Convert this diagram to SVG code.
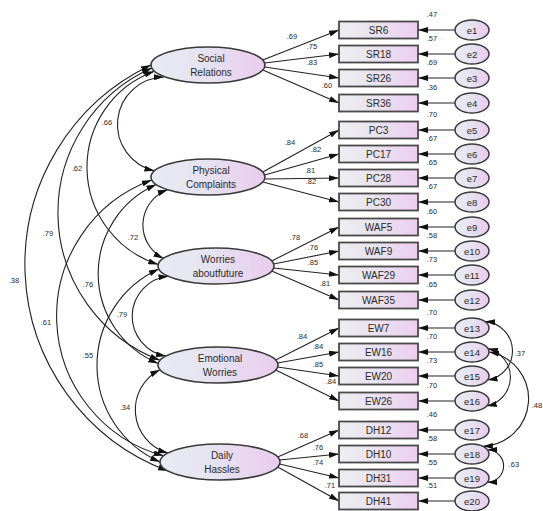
<svg xmlns="http://www.w3.org/2000/svg" width="543" height="511" viewBox="0 0 543 511">
<defs>
<linearGradient id="gl" x1="0" y1="0" x2="1" y2="0"><stop offset="0" stop-color="#e9eaf3"/><stop offset="0.45" stop-color="#e5e3f0"/><stop offset="1" stop-color="#eacbee"/></linearGradient>
<linearGradient id="gb" x1="0" y1="0" x2="1" y2="0"><stop offset="0" stop-color="#ededf1"/><stop offset="0.5" stop-color="#e8e2ef"/><stop offset="1" stop-color="#efcdf1"/></linearGradient>
<marker id="ah" viewBox="0 0 10 6" refX="10" refY="3" markerWidth="10" markerHeight="6" markerUnits="userSpaceOnUse" orient="auto-start-reverse"><path d="M0,0L10,3L0,6z" fill="#111"/></marker>
</defs>
<style>
.lat{fill:url(#gl);stroke:#3a3a3a;stroke-width:1.6}
.box{fill:url(#gb);stroke:#4a4a4a;stroke-width:1.8}
.err{fill:url(#gl);stroke:#3a3a3a;stroke-width:1.5}
.c{fill:none;stroke:#222;stroke-width:1.1;marker-end:url(#ah)}
.cov{fill:none;stroke:#222;stroke-width:1.1;marker-start:url(#ah);marker-end:url(#ah)}
text{font-family:"Liberation Sans",Arial,sans-serif;fill:#2a2a2a;text-anchor:middle}
.lt{font-size:10px}
.bt{font-size:10px}
.et{font-size:9.5px}
.n{font-size:7.5px;fill:#555}
</style>
<rect width="543" height="511" fill="#fff"/>

<g id="connectors">
<path class="cov" d="M164,77 A47.5,47.5 0 0 0 154.4,170.8"/>
<path class="cov" d="M154.4,71.2 A102,102 0 0 0 158.2,264.4"/>
<path class="cov" d="M151.9,68.1 A158,158 0 0 0 160,360.3"/>
<path class="cov" d="M151,65 A220.7,220.7 0 0 0 168,471"/>
<path class="cov" d="M167.7,189.7 A37.5,37.5 0 0 0 163.4,258.4"/>
<path class="cov" d="M156.3,184.6 A97.2,97.2 0 0 0 158.2,363.4"/>
<path class="cov" d="M151.9,180.1 A144.7,144.7 0 0 0 163.6,455.8"/>
<path class="cov" d="M168.5,276.3 A40.2,40.2 0 0 0 166,356"/>
<path class="cov" d="M158.9,269.1 A105.7,105.7 0 0 0 160,462"/>
<path class="cov" d="M160,369.7 A44.9,44.9 0 0 0 168,453"/>
<path class="c" d="M262.8,60 L339,30"/>
<path class="c" d="M264.6,63 L339,54"/>
<path class="c" d="M264.6,67 L339,78"/>
<path class="c" d="M262.8,70 L339,103"/>
<path class="c" d="M262.8,172 L339,130"/>
<path class="c" d="M264.6,175 L339,154"/>
<path class="c" d="M264.6,179 L339,178"/>
<path class="c" d="M262.8,182 L339,202"/>
<path class="c" d="M271.7,261 L339,227"/>
<path class="c" d="M273.6,264 L339,251"/>
<path class="c" d="M273.6,268 L339,275"/>
<path class="c" d="M271.7,271 L339,300"/>
<path class="c" d="M275.7,360 L339,328"/>
<path class="c" d="M277.6,363 L339,352"/>
<path class="c" d="M277.6,367 L339,376"/>
<path class="c" d="M275.7,370 L339,401"/>
<path class="c" d="M277.7,457 L339,430"/>
<path class="c" d="M279.6,460 L339,454"/>
<path class="c" d="M279.6,464 L339,478"/>
<path class="c" d="M277.7,467 L339,501"/>
<path class="c" d="M455,30 L418,30"/>
<path class="c" d="M455,54 L418,54"/>
<path class="c" d="M455,78 L418,78"/>
<path class="c" d="M455,103 L418,103"/>
<path class="c" d="M455,130 L418,130"/>
<path class="c" d="M455,154 L418,154"/>
<path class="c" d="M455,178 L418,178"/>
<path class="c" d="M455,202 L418,202"/>
<path class="c" d="M455,227 L418,227"/>
<path class="c" d="M455,251 L418,251"/>
<path class="c" d="M455,275 L418,275"/>
<path class="c" d="M455,300 L418,300"/>
<path class="c" d="M455,328 L418,328"/>
<path class="c" d="M455,352 L418,352"/>
<path class="c" d="M455,376 L418,376"/>
<path class="c" d="M455,401 L418,401"/>
<path class="c" d="M455,430 L418,430"/>
<path class="c" d="M455,454 L418,454"/>
<path class="c" d="M455,478 L418,478"/>
<path class="c" d="M455,501 L418,501"/>
<path class="cov" d="M485,321.6 A29.4,29.4 0 0 1 487.5,380"/>
<path class="cov" d="M488,348.6 A29.4,29.4 0 0 1 486.7,406"/>
<path class="cov" d="M489,352 A47.5,47.5 0 0 1 482.9,446.3"/>
<path class="cov" d="M487.4,449.8 A16.2,16.2 0 0 1 487.4,482.2"/>
<g class="n">
<text x="107" y="125">.66</text>
<text x="77" y="171">.62</text>
<text x="48" y="236">.79</text>
<text x="14" y="283">.38</text>
<text x="133" y="240">.72</text>
<text x="88" y="287">.76</text>
<text x="46" y="325">.61</text>
<text x="122" y="317">.79</text>
<text x="88" y="358">.55</text>
<text x="125" y="410">.34</text>
<text x="292" y="39">.69</text>
<text x="312" y="49">.75</text>
<text x="312" y="65">.83</text>
<text x="327" y="88">.60</text>
<text x="290" y="145">.84</text>
<text x="316" y="152">.82</text>
<text x="310" y="173">.81</text>
<text x="311" y="184">.82</text>
<text x="295" y="240">.78</text>
<text x="313" y="250">.76</text>
<text x="313" y="265">.85</text>
<text x="325" y="286">.81</text>
<text x="302" y="339">.84</text>
<text x="318" y="349">.84</text>
<text x="318" y="367">.85</text>
<text x="331" y="384">.84</text>
<text x="303" y="438">.68</text>
<text x="318" y="450">.76</text>
<text x="318" y="465">.74</text>
<text x="330" y="488">.71</text>
<text x="432" y="17">.47</text>
<text x="432" y="41">.57</text>
<text x="432" y="65">.69</text>
<text x="432" y="90">.36</text>
<text x="432" y="117">.70</text>
<text x="432" y="141">.67</text>
<text x="432" y="165">.65</text>
<text x="432" y="189">.67</text>
<text x="432" y="214">.60</text>
<text x="432" y="238">.58</text>
<text x="432" y="262">.73</text>
<text x="432" y="287">.65</text>
<text x="432" y="315">.70</text>
<text x="432" y="339">.70</text>
<text x="432" y="363">.73</text>
<text x="432" y="388">.70</text>
<text x="432" y="417">.46</text>
<text x="432" y="441">.58</text>
<text x="432" y="465">.55</text>
<text x="432" y="488">.51</text>
<text x="520" y="356">.37</text>
<text x="537" y="408">.48</text>
<text x="514" y="467">.63</text>
</g>
</g>

<g id="SocialRelations"><ellipse class="lat" cx="208" cy="65" rx="57" ry="18"/><text class="lt" x="211" y="61.5">Social</text><text class="lt" x="211" y="75.5">Relations</text></g>
<g id="PhysicalComplaints"><ellipse class="lat" cx="208" cy="177" rx="57" ry="18"/><text class="lt" x="211" y="173.5">Physical</text><text class="lt" x="211" y="187.5">Complaints</text></g>
<g id="WorriesAboutFuture"><ellipse class="lat" cx="216" cy="266" rx="58" ry="18"/><text class="lt" x="218" y="262.5">Worries</text><text class="lt" x="218" y="276.5">aboutfuture</text></g>
<g id="EmotionalWorries"><ellipse class="lat" cx="218" cy="365" rx="60" ry="18"/><text class="lt" x="220" y="361.5">Emotional</text><text class="lt" x="220" y="375.5">Worries</text></g>
<g id="DailyHassles"><ellipse class="lat" cx="220" cy="462" rx="60" ry="18"/><text class="lt" x="222" y="458.5">Daily</text><text class="lt" x="222" y="472.5">Hassles</text></g>

<g id="SR6"><rect class="box" x="339" y="21.5" width="79" height="17"/><text class="bt" x="378.5" y="33.5">SR6</text></g>
<g id="SR18"><rect class="box" x="339" y="45.5" width="79" height="17"/><text class="bt" x="378.5" y="57.5">SR18</text></g>
<g id="SR26"><rect class="box" x="339" y="69.5" width="79" height="17"/><text class="bt" x="378.5" y="81.5">SR26</text></g>
<g id="SR36"><rect class="box" x="339" y="94.5" width="79" height="17"/><text class="bt" x="378.5" y="106.5">SR36</text></g>
<g id="PC3"><rect class="box" x="339" y="121.5" width="79" height="17"/><text class="bt" x="378.5" y="133.5">PC3</text></g>
<g id="PC17"><rect class="box" x="339" y="145.5" width="79" height="17"/><text class="bt" x="378.5" y="157.5">PC17</text></g>
<g id="PC28"><rect class="box" x="339" y="169.5" width="79" height="17"/><text class="bt" x="378.5" y="181.5">PC28</text></g>
<g id="PC30"><rect class="box" x="339" y="193.5" width="79" height="17"/><text class="bt" x="378.5" y="205.5">PC30</text></g>
<g id="WAF5"><rect class="box" x="339" y="218.5" width="79" height="17"/><text class="bt" x="378.5" y="230.5">WAF5</text></g>
<g id="WAF9"><rect class="box" x="339" y="242.5" width="79" height="17"/><text class="bt" x="378.5" y="254.5">WAF9</text></g>
<g id="WAF29"><rect class="box" x="339" y="266.5" width="79" height="17"/><text class="bt" x="378.5" y="278.5">WAF29</text></g>
<g id="WAF35"><rect class="box" x="339" y="291.5" width="79" height="17"/><text class="bt" x="378.5" y="303.5">WAF35</text></g>
<g id="EW7"><rect class="box" x="339" y="319.5" width="79" height="17"/><text class="bt" x="378.5" y="331.5">EW7</text></g>
<g id="EW16"><rect class="box" x="339" y="343.5" width="79" height="17"/><text class="bt" x="378.5" y="355.5">EW16</text></g>
<g id="EW20"><rect class="box" x="339" y="367.5" width="79" height="17"/><text class="bt" x="378.5" y="379.5">EW20</text></g>
<g id="EW26"><rect class="box" x="339" y="392.5" width="79" height="17"/><text class="bt" x="378.5" y="404.5">EW26</text></g>
<g id="DH12"><rect class="box" x="339" y="421.5" width="79" height="17"/><text class="bt" x="378.5" y="433.5">DH12</text></g>
<g id="DH10"><rect class="box" x="339" y="445.5" width="79" height="17"/><text class="bt" x="378.5" y="457.5">DH10</text></g>
<g id="DH31"><rect class="box" x="339" y="469.5" width="79" height="17"/><text class="bt" x="378.5" y="481.5">DH31</text></g>
<g id="DH41"><rect class="box" x="339" y="492.5" width="79" height="17"/><text class="bt" x="378.5" y="504.5">DH41</text></g>

<g id="e1"><ellipse class="err" cx="472" cy="30" rx="17" ry="10"/><text class="et" x="472" y="33.5">e1</text></g>
<g id="e2"><ellipse class="err" cx="472" cy="54" rx="17" ry="10"/><text class="et" x="472" y="57.5">e2</text></g>
<g id="e3"><ellipse class="err" cx="472" cy="78" rx="17" ry="10"/><text class="et" x="472" y="81.5">e3</text></g>
<g id="e4"><ellipse class="err" cx="472" cy="103" rx="17" ry="10"/><text class="et" x="472" y="106.5">e4</text></g>
<g id="e5"><ellipse class="err" cx="472" cy="130" rx="17" ry="10"/><text class="et" x="472" y="133.5">e5</text></g>
<g id="e6"><ellipse class="err" cx="472" cy="154" rx="17" ry="10"/><text class="et" x="472" y="157.5">e6</text></g>
<g id="e7"><ellipse class="err" cx="472" cy="178" rx="17" ry="10"/><text class="et" x="472" y="181.5">e7</text></g>
<g id="e8"><ellipse class="err" cx="472" cy="202" rx="17" ry="10"/><text class="et" x="472" y="205.5">e8</text></g>
<g id="e9"><ellipse class="err" cx="472" cy="227" rx="17" ry="10"/><text class="et" x="472" y="230.5">e9</text></g>
<g id="e10"><ellipse class="err" cx="472" cy="251" rx="17" ry="10"/><text class="et" x="472" y="254.5">e10</text></g>
<g id="e11"><ellipse class="err" cx="472" cy="275" rx="17" ry="10"/><text class="et" x="472" y="278.5">e11</text></g>
<g id="e12"><ellipse class="err" cx="472" cy="300" rx="17" ry="10"/><text class="et" x="472" y="303.5">e12</text></g>
<g id="e13"><ellipse class="err" cx="472" cy="328" rx="17" ry="10"/><text class="et" x="472" y="331.5">e13</text></g>
<g id="e14"><ellipse class="err" cx="472" cy="352" rx="17" ry="10"/><text class="et" x="472" y="355.5">e14</text></g>
<g id="e15"><ellipse class="err" cx="472" cy="376" rx="17" ry="10"/><text class="et" x="472" y="379.5">e15</text></g>
<g id="e16"><ellipse class="err" cx="472" cy="401" rx="17" ry="10"/><text class="et" x="472" y="404.5">e16</text></g>
<g id="e17"><ellipse class="err" cx="472" cy="430" rx="17" ry="10"/><text class="et" x="472" y="433.5">e17</text></g>
<g id="e18"><ellipse class="err" cx="472" cy="454" rx="17" ry="10"/><text class="et" x="472" y="457.5">e18</text></g>
<g id="e19"><ellipse class="err" cx="472" cy="478" rx="17" ry="10"/><text class="et" x="472" y="481.5">e19</text></g>
<g id="e20"><ellipse class="err" cx="472" cy="501" rx="17" ry="10"/><text class="et" x="472" y="504.5">e20</text></g>
</svg>
